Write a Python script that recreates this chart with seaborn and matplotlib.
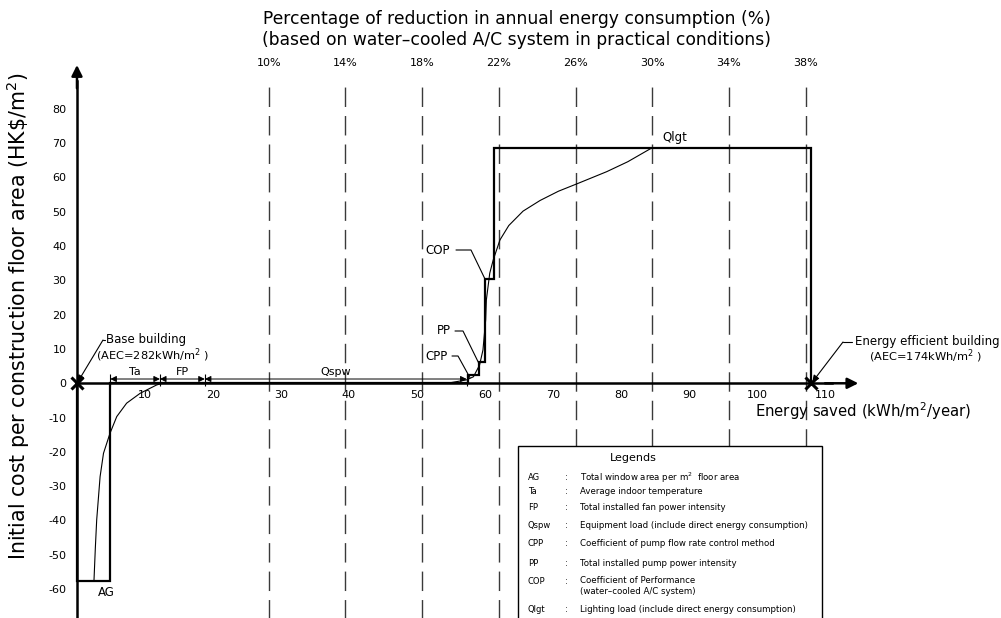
import matplotlib
matplotlib.use("Agg")
import matplotlib.pyplot as plt
from matplotlib.lines import Line2D
from matplotlib.patches import Rectangle
import seaborn as sns

# data
step_edges = [0, 4.9, 57.5, 59.1, 60.0, 61.3, 108.0]
step_heights = [-57.5, 0, 2.4, 6.3, 30.4, 68.7]

curve_x = [2.5, 2.7, 2.9, 3.4, 3.9, 4.85, 5.85, 7.3, 9.3, 11.7, 12.5, 30, 50, 55, 57.3,
           58.3, 59.2, 59.7, 60.1, 60.2, 60.7, 61.2, 62.2, 63.5, 65.6, 68.1, 70.8, 73.7,
           77.9, 81.0, 84.6]
curve_y = [-57.5, -48.0, -39.8, -27.2, -20.4, -14.6, -9.7, -5.8, -2.9, -0.5, 0, 0, 0, 0.2, 1.0,
           1.9, 5.3, 9.7, 18.5, 24.3, 32.1, 35.9, 41.8, 46.0, 50.2, 53.3, 56.0, 58.3,
           61.7, 64.6, 68.7]

dim_names = ["Ta", "FP", "Qspw"]
dim_edges = [4.9, 12.2, 18.8, 57.3]

base_aec = 282
pct_lines = [10, 14, 18, 22, 26, 30, 34, 38]
buildings_x = [0, 108]

x_ticks = [10, 20, 30, 40, 50, 60, 70, 80, 90, 100, 110]
y_ticks = [-60, -50, -40, -30, -20, -10, 0, 10, 20, 30, 40, 50, 60, 70, 80]

legend_keys = ["AG", "Ta", "FP", "Qspw", "CPP", "PP", "COP", "Qlgt"]
legend_desc = [
    "Total window area per m$^2$  floor area",
    "Average indoor temperature",
    "Total installed fan power intensity",
    "Equipment load (include direct energy consumption)",
    "Coefficient of pump flow rate control method",
    "Total installed pump power intensity",
    "Coefficient of Performance\n(water\u2013cooled A/C system)",
    "Lighting load (include direct energy consumption)",
]

W, H = 1001, 618


def fxy(px, py):
    return px / W, 1 - py / H


def main():
    sns.set_style("white")
    plt.rcParams["font.family"] = ["DejaVu Sans"]
    plt.rcParams["text.color"] = "black"
    plt.rcParams["xtick.color"] = "black"
    plt.rcParams["ytick.color"] = "black"
    fig = plt.figure(figsize=(W / 100, H / 100), dpi=100)
    ax = fig.add_axes([0, 0, 1, 1])
    ax.set_xlim(-11.32, 135.88)
    ax.set_ylim(-68.43, 111.75)

    # axes through the origin
    for s in ["top", "right"]:
        ax.spines[s].set_visible(False)
    ax.spines["left"].set_position(("data", 0))
    ax.spines["bottom"].set_position(("data", 0))
    ax.spines["left"].set_bounds(-68.43, 88)
    ax.spines["bottom"].set_bounds(0, 111)
    for s in ["left", "bottom"]:
        ax.spines[s].set_linewidth(1.8)
        ax.spines[s].set_color("black")
        ax.spines[s].set_zorder(5)
    ax.annotate("", xy=(0, 92.8), xytext=(0, 86), arrowprops=dict(
        arrowstyle="-|>", color="black", lw=1.8, mutation_scale=16, shrinkA=0, shrinkB=0))
    ax.annotate("", xy=(114.9, 0), xytext=(110, 0), arrowprops=dict(
        arrowstyle="-|>", color="black", lw=1.8, mutation_scale=16, shrinkA=0, shrinkB=0))
    ax.set_xticks(x_ticks)
    ax.set_yticks(y_ticks)
    ax.set_xticklabels([str(v) for v in x_ticks])
    ax.set_yticklabels([str(v) for v in y_ticks])
    ax.tick_params(direction="inout", length=7, width=1.2, labelsize=8,
                   color="black", labelcolor="black")
    ax.tick_params(axis="x", pad=1)
    ax.tick_params(axis="y", pad=4)
    ax.set_xlabel("")
    ax.set_ylabel("")

    # percentage reduction lines
    for p in pct_lines:
        xv = base_aec * p / 100
        ax.vlines(xv, -70, 87.5, colors="#3a3a3a", lw=1.0,
                  linestyles=(0, (14, 6.5)), zorder=1)
        ax.text(xv, 93.4, f"{p}%", ha="center", va="center", fontsize=8)

    # cost steps and cumulative curve
    ax.stairs(step_heights, step_edges, baseline=0, color="black", lw=1.6, zorder=4)
    sns.lineplot(x=curve_x, y=curve_y, sort=False, estimator=None,
                 color="black", lw=0.8, ax=ax, zorder=4)

    # dimension arrows along the axis
    for i, name in enumerate(dim_names):
        a, b = dim_edges[i], dim_edges[i + 1]
        ax.annotate("", xy=(b, 1.25), xytext=(a, 1.25), arrowprops=dict(
            arrowstyle="<|-|>", color="black", lw=0.7, mutation_scale=9,
            shrinkA=0, shrinkB=0), zorder=4)
        ax.text((a + b) / 2, 3.3, name, ha="center", va="center", fontsize=8)
    ax.vlines(dim_edges, -0.8, 2.8, colors="black", lw=0.8, zorder=4)

    # start / end buildings
    ax.plot(buildings_x, [0, 0], "x", ms=9, mew=2.2, color="black", zorder=6)

    def leader(pts, target, arrow=False, lw=0.8):
        tx, ty = fig.transFigure.inverted().transform(ax.transData.transform(target))
        xs = [fxy(*p)[0] for p in pts]
        ys = [fxy(*p)[1] for p in pts]
        if arrow:
            fig.add_artist(Line2D(xs, ys, transform=fig.transFigure, lw=lw, color="black"))
            ax.annotate("", xy=target, xycoords="data", xytext=(xs[-1], ys[-1]),
                        textcoords="figure fraction", arrowprops=dict(
                            arrowstyle="-|>", color="black", lw=lw, mutation_scale=10,
                            shrinkA=0, shrinkB=1))
        else:
            fig.add_artist(Line2D(xs + [tx], ys + [ty], transform=fig.transFigure,
                                  lw=lw, color="black"))

    fig.text(*fxy(106, 340), "Base building", fontsize=8.5, ha="left", va="center")
    fig.text(*fxy(96, 355), "(AEC=282kWh/m$^2$ )", fontsize=8.2, ha="left", va="center")
    leader([(105, 340), (103, 340)], (0, 0), arrow=True)

    fig.text(*fxy(855, 342), "Energy efficient building", fontsize=8.5, ha="left", va="center")
    fig.text(*fxy(869, 356), "(AEC=174kWh/m$^2$ )", fontsize=8.2, ha="left", va="center")
    leader([(852, 342), (843, 342)], (108, 0), arrow=True)

    fig.text(*fxy(438, 250), "COP", fontsize=8.5, ha="center", va="center")
    leader([(456, 250), (471, 250)], (60.0, 30.4))
    fig.text(*fxy(444, 331), "PP", fontsize=8.5, ha="center", va="center")
    leader([(455, 331), (463, 331)], (59.1, 5.8))
    fig.text(*fxy(437, 356), "CPP", fontsize=8.5, ha="center", va="center")
    leader([(452, 356), (458, 356)], (57.8, 1.6))
    fig.text(*fxy(662, 137), "Qlgt", fontsize=8.5, ha="left", va="center")
    fig.text(*fxy(106, 593), "AG", fontsize=8.5, ha="center", va="center")

    # titles and axis labels
    fig.text(*fxy(517, 19), "Percentage of reduction in annual energy consumption (%)",
             fontsize=12.3, ha="center", va="center")
    fig.text(*fxy(517, 40), "(based on water\u2013cooled A/C system in practical conditions)",
             fontsize=12.3, ha="center", va="center")
    fig.text(*fxy(755, 411), "Energy saved (kWh/m$^2$/year)", fontsize=10.7,
             ha="left", va="center")
    fig.text(*fxy(18, 316), "Initial cost per construction floor area (HK\\$/m$^2$)",
             fontsize=14.8, rotation=90, ha="center", va="center")

    # legend box
    ax.add_patch(Rectangle((64.8, -80), 44.7, 61.7, facecolor="white",
                           edgecolor="black", lw=1.0, zorder=3))
    fig.text(*fxy(633, 458), "Legends", fontsize=8, ha="center", va="center", zorder=6)
    rows_y = [478, 492, 507, 526, 544, 563, 586, 609]
    for key, desc, ry in zip(legend_keys, legend_desc, rows_y):
        ky = ry if key != "COP" else 581
        fig.text(*fxy(528, ky), key, fontsize=6, ha="left", va="center", zorder=6)
        fig.text(*fxy(565, ky), ":", fontsize=6, ha="left", va="center", zorder=6)
        fig.text(*fxy(580, ry), desc, fontsize=6.2, ha="left", va="center",
                 linespacing=1.3, zorder=6)

    fig.savefig("out.png", dpi=100)


if __name__ == "__main__":
    main()
